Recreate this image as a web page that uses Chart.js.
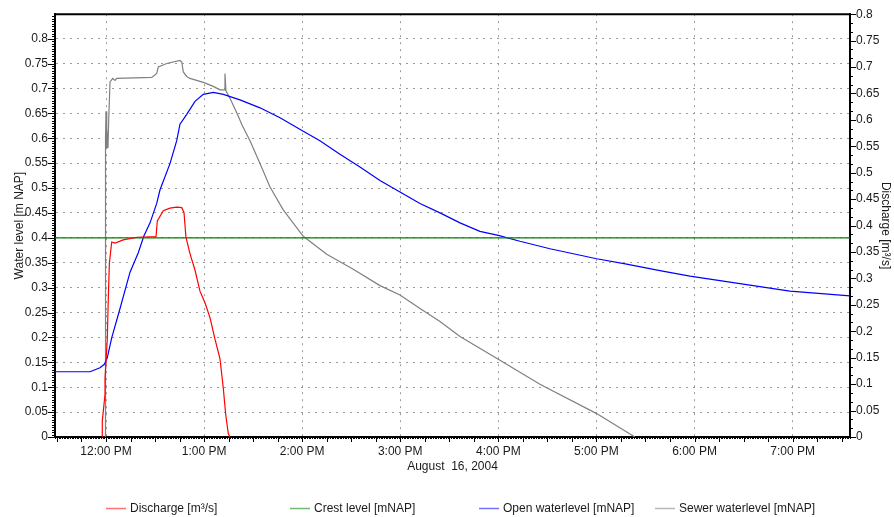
<!DOCTYPE html>
<html>
<head>
<meta charset="utf-8">
<script src="https://cdn.jsdelivr.net/npm/chart.js@4.4.0/dist/chart.umd.min.js"></script>
<style>
  html, body { margin: 0; padding: 0; background: #fff; }
  #wrap { width: 894px; height: 517px; position: relative; }
</style>
</head>
<body>
<div id="wrap"><canvas id="chart"></canvas></div>
<script>
// Times are decimal clock hours (12.5 = 12:30 PM)
const dischargeTimes = [11.962, 11.962, 11.99, 11.99, 12.013, 12.023, 12.034, 12.058, 12.092, 12.176,
    12.319, 12.51, 12.523, 12.584, 12.652, 12.721, 12.772, 12.795, 12.815, 12.856,
    12.907, 12.958, 13.009, 13.06, 13.111, 13.162, 13.196, 13.22, 13.247, 13.264];
const dischargeValues = [0, 0.030, 0.081, 0.111, 0.185, 0.26, 0.328, 0.369, 0.367, 0.373,
    0.378, 0.379, 0.409, 0.428, 0.433, 0.435, 0.434, 0.425, 0.378, 0.347,
    0.316, 0.276, 0.254, 0.226, 0.185, 0.148, 0.092, 0.043, 0.006, 0];

const crestTimes = [11.48, 19.6];
const crestValues = [0.4, 0.4];

const openTimes = [11.48, 11.837, 11.939, 11.983, 12.013, 12.058, 12.143, 12.245, 12.329, 12.387,
    12.449, 12.517, 12.55, 12.652, 12.721, 12.754, 12.823, 12.907, 12.992, 13.094,
    13.196, 13.366, 13.57, 13.774, 14.011, 14.181, 14.385, 14.589, 14.793, 14.997,
    15.201, 15.405, 15.609, 15.812, 15.999, 16.22, 16.526, 16.764, 17.002, 17.308,
    17.647, 17.953, 18.463, 18.972, 19.6];
const openValues = [0.131, 0.131, 0.139, 0.146, 0.159, 0.199, 0.258, 0.331, 0.37, 0.404,
    0.43, 0.469, 0.496, 0.549, 0.595, 0.628, 0.648, 0.674, 0.688, 0.692,
    0.688, 0.677, 0.661, 0.641, 0.614, 0.595, 0.568, 0.542, 0.515, 0.492,
    0.469, 0.45, 0.43, 0.413, 0.405, 0.393, 0.378, 0.368, 0.358, 0.347,
    0.334, 0.323, 0.308, 0.293, 0.283];

const sewerTimes = [11.99, 11.995, 12.0, 12.005, 12.01, 12.02, 12.028, 12.041, 12.068, 12.092,
    12.109, 12.466, 12.517, 12.533, 12.619, 12.754, 12.772, 12.788, 12.823, 12.856,
    12.992, 13.094, 13.162, 13.203, 13.213, 13.223, 13.264, 13.349, 13.383, 13.468,
    13.57, 13.672, 13.807, 14.011, 14.25, 14.521, 14.793, 14.997, 15.201, 15.405,
    15.609, 15.999, 16.424, 17.002, 17.392];
const sewerValues = [0, 0.60, 0.654, 0.58, 0.62, 0.58, 0.64, 0.713, 0.72, 0.716,
    0.72, 0.722, 0.73, 0.743, 0.75, 0.756, 0.753, 0.733, 0.724, 0.72,
    0.712, 0.704, 0.697, 0.697, 0.73, 0.695, 0.68, 0.644, 0.628, 0.595,
    0.549, 0.502, 0.456, 0.403, 0.367, 0.337, 0.304, 0.285, 0.258, 0.232,
    0.202, 0.156, 0.106, 0.047, 0];

const hourTicks = [12, 13, 14, 15, 16, 17, 18, 19];
const hourLabels = ['12:00 PM', '1:00 PM', '2:00 PM', '3:00 PM', '4:00 PM', '5:00 PM', '6:00 PM', '7:00 PM'];
const levelTicks = [0, 0.05, 0.1, 0.15, 0.2, 0.25, 0.3, 0.35, 0.4, 0.45, 0.5, 0.55, 0.6, 0.65, 0.7, 0.75, 0.8];
const dischargeTicks = [0, 0.05, 0.1, 0.15, 0.2, 0.25, 0.3, 0.35, 0.4, 0.45, 0.5, 0.55, 0.6, 0.65, 0.7, 0.75, 0.8];

const FONT = "'Liberation Sans', Arial, sans-serif";
const TEXT = '#1a1a1a';
const GRID = '#9a9a9a';
const legendX = [106, 290, 479, 655];

function toPoints(times, values) {
    return times.map((t, i) => ({ x: t, y: values[i] }));
}

function fmtNum(v) {
    return String(parseFloat(v.toFixed(2)));
}

// minor tick marks, top border and the bottom legend
const decorations = {
    id: 'decorations',
    afterDraw(chart) {
        const ctx = chart.ctx;
        const a = chart.chartArea;
        const yl = chart.scales.y, yr = chart.scales.y2, xs = chart.scales.x;
        ctx.save();
        ctx.strokeStyle = '#000';
        ctx.lineWidth = 1;
        ctx.beginPath();
        for (let i = 0; i <= 170; i++) {
            const v = i * 0.005;
            if (v > yl.max) break;
            const py = Math.round(yl.getPixelForValue(v)) + 0.5;
            const len = i % 10 === 0 ? 7 : 3;
            ctx.moveTo(a.left - len, py);
            ctx.lineTo(a.left, py);
        }
        for (let i = 0; i <= 48; i++) {
            const v = i * 0.05 / 3;
            if (v > yr.max + 1e-9) break;
            const py = Math.round(yr.getPixelForValue(v)) + 0.5;
            const len = i % 3 === 0 ? 6 : 3;
            ctx.moveTo(a.right, py);
            ctx.lineTo(a.right + len, py);
        }
        for (let m = Math.ceil(xs.min * 60); m <= xs.max * 60; m++) {
            const px = Math.round(xs.getPixelForValue(m / 60)) + 0.5;
            const len = m % 15 === 0 ? 5 : 2;
            ctx.moveTo(px, a.bottom);
            ctx.lineTo(px, a.bottom + len);
        }
        ctx.stroke();

        ctx.lineWidth = 2;
        ctx.beginPath();
        ctx.moveTo(a.left, a.top);
        ctx.lineTo(a.right, a.top);
        ctx.stroke();

        ctx.font = '12px ' + FONT;
        ctx.textBaseline = 'middle';
        ctx.textAlign = 'left';
        chart.data.datasets.forEach((ds, i) => {
            const x0 = legendX[i], y0 = 508.5;
            ctx.strokeStyle = ds.borderColor;
            ctx.globalAlpha = 0.55;
            ctx.lineWidth = 1.5;
            ctx.beginPath();
            ctx.moveTo(x0, y0);
            ctx.lineTo(x0 + 20, y0);
            ctx.stroke();
            ctx.globalAlpha = 1;
            ctx.fillStyle = TEXT;
            ctx.fillText(ds.label, x0 + 24, y0);
        });
        ctx.restore();
    }
};

const lineStyle = { borderWidth: 1.2, pointRadius: 0, tension: 0, fill: false };

new Chart(document.getElementById('chart'), {
    type: 'line',
    data: {
        datasets: [
            { label: 'Discharge [m³/s]', data: toPoints(dischargeTimes, dischargeValues), borderColor: 'rgb(255,0,0)', yAxisID: 'y2', ...lineStyle },
            { label: 'Crest level [mNAP]', data: toPoints(crestTimes, crestValues), borderColor: 'rgb(0,128,0)', yAxisID: 'y', ...lineStyle },
            { label: 'Open waterlevel [mNAP]', data: toPoints(openTimes, openValues), borderColor: 'rgb(0,0,255)', yAxisID: 'y', ...lineStyle },
            { label: 'Sewer waterlevel [mNAP]', data: toPoints(sewerTimes, sewerValues), borderColor: 'rgb(128,128,128)', yAxisID: 'y', ...lineStyle }
        ]
    },
    options: {
        responsive: true,
        maintainAspectRatio: false,
        animation: false,
        layout: { padding: { top: 7, left: 0, right: 0, bottom: 0 } },
        plugins: {
            legend: { display: false },
            tooltip: { enabled: false }
        },
        scales: {
            x: {
                type: 'linear',
                min: 11.48,
                max: 19.585,
                afterFit: s => { s.height = 80; },
                afterBuildTicks: s => { s.ticks = hourTicks.map(v => ({ value: v })); },
                ticks: {
                    autoSkip: false,
                    maxRotation: 0,
                    padding: 7,
                    color: TEXT,
                    font: { family: FONT, size: 12 },
                    callback: (v) => hourLabels[hourTicks.indexOf(v)]
                },
                grid: { color: GRID, drawTicks: false, lineWidth: 1 },
                border: { color: '#000', width: 2, dash: [2, 5] },
                title: {
                    display: true,
                    text: 'August  16, 2004',
                    color: TEXT,
                    font: { family: FONT, size: 12 },
                    padding: { top: 0, bottom: 43 }
                }
            },
            y: {
                position: 'left',
                min: 0,
                max: 0.849,
                afterFit: s => { s.width = 55; },
                afterBuildTicks: s => { s.ticks = levelTicks.map(v => ({ value: v })); },
                ticks: {
                    padding: 7,
                    color: TEXT,
                    font: { family: FONT, size: 12 },
                    callback: v => fmtNum(v)
                },
                grid: { color: GRID, drawTicks: false, lineWidth: 1 },
                border: { color: '#000', width: 2, dash: [2, 5] },
                title: {
                    display: true,
                    text: 'Water level [m NAP]',
                    color: TEXT,
                    font: { family: FONT, size: 12 },
                    padding: { top: 12, bottom: 0 }
                }
            },
            y2: {
                position: 'right',
                min: 0,
                max: 0.8,
                afterFit: s => { s.width = 44; },
                afterBuildTicks: s => { s.ticks = dischargeTicks.map(v => ({ value: v })); },
                ticks: {
                    padding: 6,
                    color: TEXT,
                    font: { family: FONT, size: 12 },
                    callback: v => fmtNum(v)
                },
                grid: { drawOnChartArea: false, drawTicks: false },
                border: { color: '#000', width: 2 },
                title: {
                    display: true,
                    text: 'Discharge [m³/s]',
                    color: TEXT,
                    font: { family: FONT, size: 12 },
                    padding: { top: 1, bottom: 0 }
                }
            }
        }
    },
    plugins: [decorations]
});
</script>
</body>
</html>
